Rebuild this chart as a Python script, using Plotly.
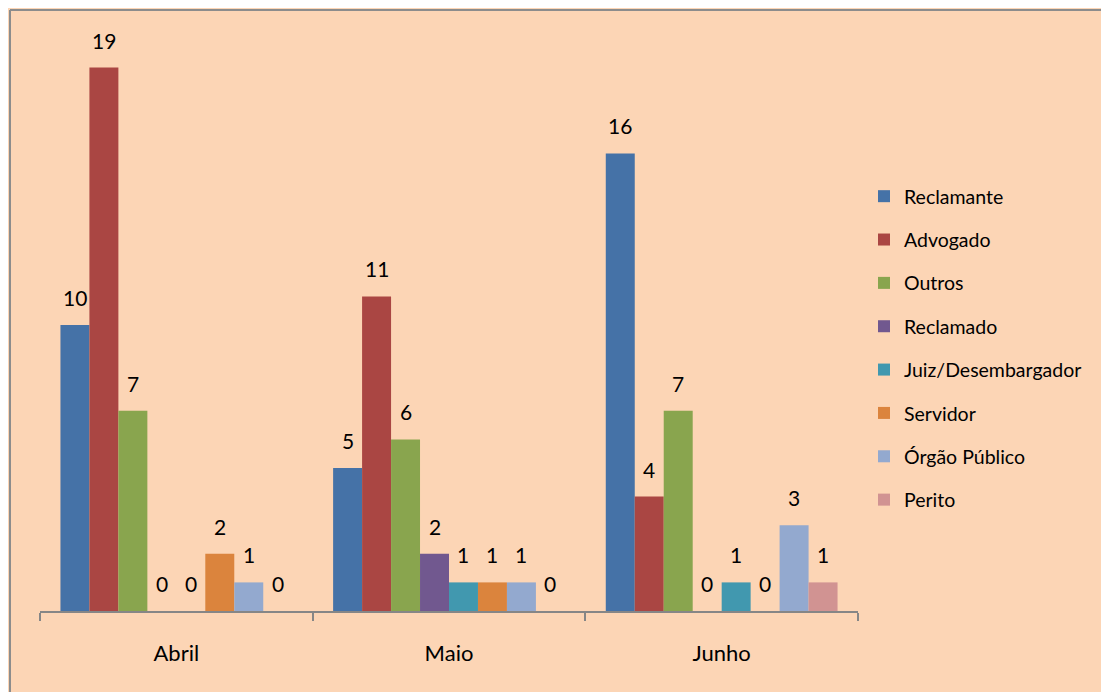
import plotly.graph_objects as go

categories = ["Abril", "Maio", "Junho"]
series_names = ["Reclamante", "Advogado", "Outros", "Reclamado",
                "Juiz/Desembargador", "Servidor", "Órgão Público", "Perito"]
reclamante = [10, 5, 16]
advogado = [19, 11, 4]
outros = [7, 6, 7]
reclamado = [0, 2, 0]
juiz = [0, 1, 1]
servidor = [2, 1, 0]
orgao = [1, 1, 3]
perito = [0, 0, 1]
series_values = [reclamante, advogado, outros, reclamado, juiz, servidor, orgao, perito]
colors = ["#4572A7", "#AA4643", "#89A54E", "#71588F",
          "#4198AF", "#DB843D", "#93A9CF", "#D19392"]

BG = "#FCD5B5"
FONT = "Lato"
W, H = 1109, 692
ML, MR, MT, MB = 32, 259, 31, 89
bargap = 0.15
n = len(series_names)
bw = (1 - bargap) / n

fig = go.Figure()
annotations = []
for j, (name, vals, col) in enumerate(zip(series_names, series_values, colors)):
    fig.add_trace(go.Bar(
        x=categories, y=vals, name=name, marker=dict(color=col, line=dict(width=0)),
        legendgroup=name,
    ))
    off = (j - (n - 1) / 2) * bw
    for i, v in enumerate(vals):
        annotations.append(dict(
            x=i + off, y=v, xref="x", yref="y", text=str(v), showarrow=False,
            yanchor="bottom", yshift=13, font=dict(family=FONT, size=21, color="#000000"),
        ))

pw = W - ML - MR
ph = H - MT - MB
def px_x(p):
    return (p - ML) / pw
def px_y(p):
    return (H - MB - p) / ph

shapes = [
    dict(type="line", xref="paper", yref="paper", x0=px_x(2), x1=px_x(W + 5),
         y0=px_y(2), y1=px_y(2), line=dict(color="#8C8C8C", width=2)),
    dict(type="line", xref="paper", yref="paper", x0=px_x(2), x1=px_x(2),
         y0=px_y(2), y1=px_y(H + 5), line=dict(color="#8C8C8C", width=2)),
]

fig.update_layout(
    width=W, height=H,
    margin=dict(l=ML, r=MR, t=MT, b=MB, pad=0),
    paper_bgcolor=BG, plot_bgcolor=BG,
    barmode="group", bargap=bargap, bargroupgap=0,
    font=dict(family=FONT, color="#000000"),
    showlegend=True,
    legend=dict(x=px_x(856), y=px_y(169), xanchor="left", yanchor="top",
                font=dict(family=FONT, size=19.5, color="#000000"),
                bgcolor="rgba(0,0,0,0)", traceorder="grouped", tracegroupgap=15,
                itemwidth=30),
    annotations=annotations,
    shapes=shapes,
    xaxis=dict(type="category", showline=True, linecolor="#868686", linewidth=2,
               ticks="outside", tickson="boundaries", ticklen=8, tickcolor="#868686",
               tickwidth=2, showgrid=False, tickfont=dict(family=FONT, size=22, color="#000000"),
               ticklabelstandoff=22, range=[-0.5, 2.5]),
    yaxis=dict(range=[0, 20], visible=False, showgrid=False, zeroline=False),
)

fig.write_html("out.html")
